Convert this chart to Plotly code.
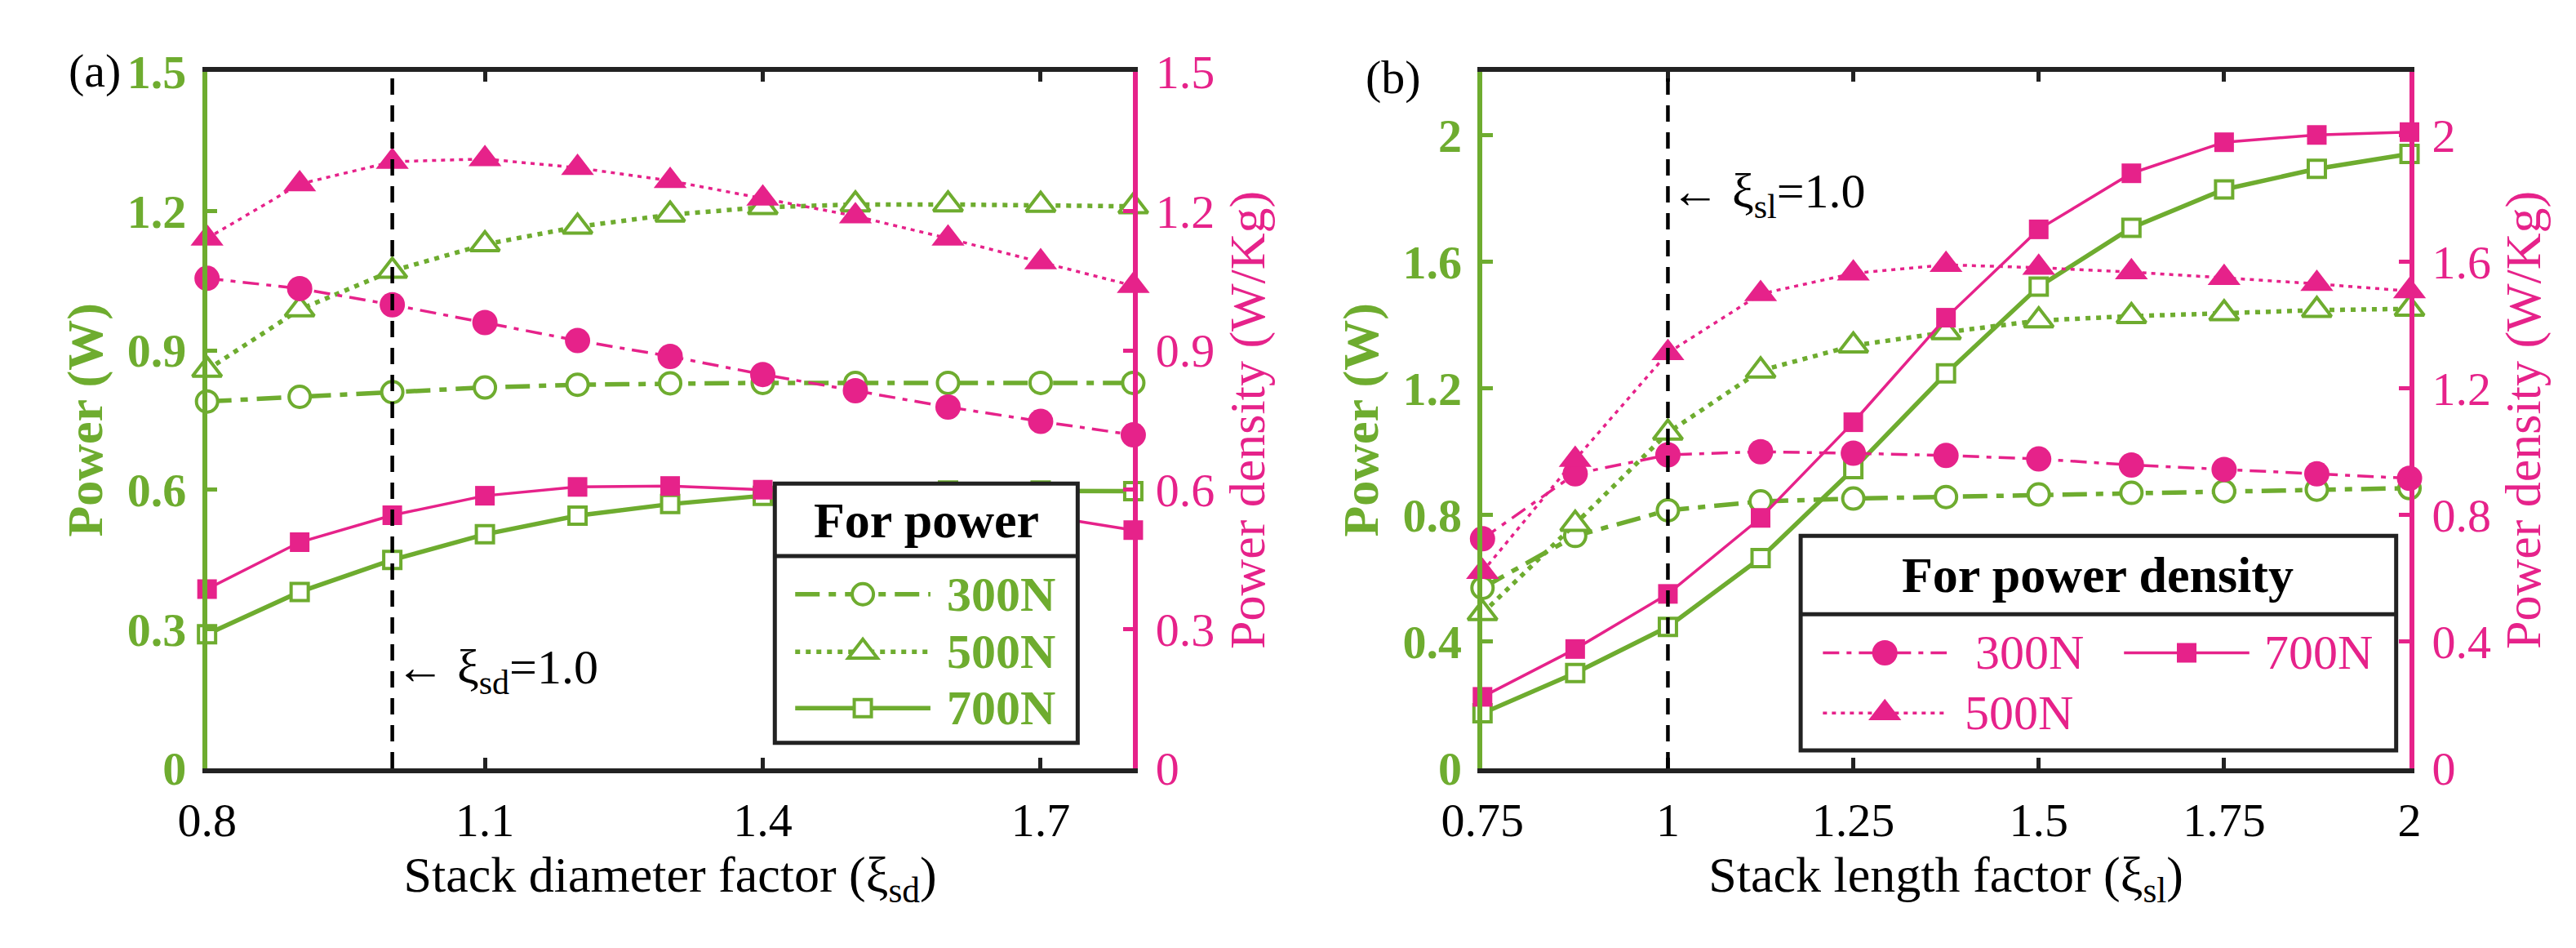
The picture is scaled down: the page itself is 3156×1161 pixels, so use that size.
import plotly.graph_objects as go

GREEN = "#6EAC2F"
PINK = "#E6228A"
FONT = "Liberation Serif"
W, H = 3156, 1161

# ---------------- data: panel (a) ----------------
xa = [0.8, 0.9, 1.0, 1.1, 1.2, 1.3, 1.4, 1.5, 1.6, 1.7, 1.8]
pa_300 = [0.79, 0.80, 0.81, 0.82, 0.826, 0.829, 0.83, 0.83, 0.83, 0.83, 0.83]
pa_500 = [0.858, 0.988, 1.071, 1.128, 1.166, 1.192, 1.208, 1.214, 1.214, 1.213, 1.21]
pa_700 = [0.289, 0.380, 0.449, 0.504, 0.544, 0.569, 0.587, 0.595, 0.598, 0.598, 0.597]
da_300 = [1.055, 1.033, 0.998, 0.960, 0.921, 0.887, 0.848, 0.813, 0.778, 0.747, 0.718]
da_500 = [1.141, 1.258, 1.306, 1.312, 1.293, 1.265, 1.227, 1.189, 1.141, 1.090, 1.039]
da_700 = [0.386, 0.487, 0.545, 0.587, 0.606, 0.608, 0.600, 0.585, 0.565, 0.545, 0.513]

# ---------------- data: panel (b) ----------------
xb = [0.75, 0.875, 1.0, 1.125, 1.25, 1.375, 1.5, 1.625, 1.75, 1.875, 2.0]
pb_300 = [0.57, 0.734, 0.815, 0.843, 0.852, 0.857, 0.865, 0.87, 0.875, 0.88, 0.885]
pb_500 = [0.49, 0.772, 1.06, 1.256, 1.335, 1.377, 1.414, 1.428, 1.437, 1.447, 1.451]
pb_700 = [0.174, 0.301, 0.447, 0.664, 0.945, 1.247, 1.521, 1.707, 1.828, 1.893, 1.94]
db_300 = [0.725, 0.93, 0.99, 1.0, 0.995, 0.988, 0.977, 0.958, 0.944, 0.93, 0.916]
db_500 = [0.621, 0.975, 1.312, 1.498, 1.563, 1.59, 1.581, 1.567, 1.549, 1.53, 1.507]
db_700 = [0.226, 0.377, 0.551, 0.791, 1.093, 1.423, 1.702, 1.879, 1.977, 2.0, 2.009]

names = ["300N", "500N", "700N"]
xa_ticks = [0.8, 1.1, 1.4, 1.7]
xb_ticks = [0.75, 1.0, 1.25, 1.5, 1.75, 2.0]
xb_ticktext = ["0.75", "1", "1.25", "1.5", "1.75", "2"]
ya_ticks = [0, 0.3, 0.6, 0.9, 1.2, 1.5]
ya_ticktext = ["0", "0.3", "0.6", "0.9", "1.2", "1.5"]
yb_ticks = [0, 0.4, 0.8, 1.2, 1.6, 2.0]
yb_ticktext = ["0", "0.4", "0.8", "1.2", "1.6", "2"]

# ---------------- styles ----------------
G_DASH = ["30px,11px,9px,11px", "6px,7px", "solid"]
P_DASH = ["20px,9px,6px,9px", "5px,6px", "solid"]
SYM = ["circle", "triangle-up", "square"]
G_SIZE = [26, 31, 21]
P_SIZE = [31, 35, 24]
G_LW, P_LW = 5.5, 3.5
TICK_FS, TITLE_FS, LEG_FS, ANN_FS = 58, 62, 60, 60
AXW = 5.5

fig = go.Figure()


def add_power(x, ys, xa_, ya_):
    for i, y in enumerate(ys):
        fig.add_trace(go.Scatter(
            x=x, y=y, name=names[i], xaxis=xa_, yaxis=ya_, mode="lines+markers",
            line=dict(color=GREEN, width=G_LW, dash=G_DASH[i]),
            marker=dict(symbol=SYM[i], size=G_SIZE[i], color="white",
                        line=dict(color=GREEN, width=4)),
            cliponaxis=False, showlegend=False))


def add_density(x, ys, xa_, ya_):
    for i, y in enumerate(ys):
        fig.add_trace(go.Scatter(
            x=x, y=y, name=names[i], xaxis=xa_, yaxis=ya_, mode="lines+markers",
            line=dict(color=PINK, width=P_LW, dash=P_DASH[i]),
            marker=dict(symbol=SYM[i], size=P_SIZE[i], color=PINK,
                        line=dict(color=PINK, width=0)),
            cliponaxis=False, showlegend=False))


add_power(xa, [pa_300, pa_500, pa_700], "x", "y")
add_density(xa, [da_300, da_500, da_700], "x", "y2")
add_power(xb, [pb_300, pb_500, pb_700], "x2", "y3")
add_density(xb, [db_300, db_500, db_700], "x2", "y4")

YDOM = [1 - 963 / H, 1 - 59 / H]
XDOM_A = [207 / W, 1366 / W]
XDOM_B = [1803 / W, 2963 / W]

common_x = dict(showgrid=False, zeroline=False, showline=True, linecolor="#222", linewidth=AXW,
                mirror="ticks", ticks="inside", ticklen=13, tickwidth=5, tickcolor="#222",
                ticklabelstandoff=8,
                tickfont=dict(family=FONT, size=TICK_FS, color="black"))


def yleft(rng, tv, tt):
    return dict(domain=YDOM, range=rng, tickvals=tv, ticktext=tt, showgrid=False, zeroline=False,
                showline=True, linecolor=GREEN, linewidth=AXW, ticks="inside", ticklen=13,
                tickwidth=5, tickcolor=GREEN, ticklabelstandoff=8,
                tickfont=dict(family=FONT, size=TICK_FS, color=GREEN, weight="bold"),
                title=dict(text="<b>Power (W)</b>", font=dict(family=FONT, size=TITLE_FS, color=GREEN),
                           standoff=12))


def yright(rng, tv, tt, over, anchor):
    return dict(domain=YDOM, range=rng, tickvals=tv, ticktext=tt, overlaying=over, side="right",
                anchor=anchor, showgrid=False, zeroline=False, showline=True, linecolor=PINK,
                linewidth=AXW, ticks="inside", ticklen=13, tickwidth=5, tickcolor=PINK,
                ticklabelstandoff=10,
                tickfont=dict(family=FONT, size=TICK_FS, color=PINK),
                title=dict(text="Power density (W/Kg)", font=dict(family=FONT, size=TITLE_FS, color=PINK),
                           standoff=20))


fig.update_layout(
    width=W, height=H, margin=dict(l=0, r=0, t=0, b=0),
    plot_bgcolor="white", paper_bgcolor="white", showlegend=False,
    font=dict(family=FONT, size=TITLE_FS, color="black"),
    xaxis=dict(domain=XDOM_A, range=[0.8, 1.8], anchor="y", tickvals=xa_ticks,
               title=dict(text="Stack diameter factor (ξ<sub>sd</sub>)",
                          font=dict(family=FONT, size=TITLE_FS), standoff=12), **common_x),
    xaxis2=dict(domain=XDOM_B, range=[0.75, 2.0], anchor="y3", tickvals=xb_ticks, ticktext=xb_ticktext,
                title=dict(text="Stack length factor (ξ<sub>sl</sub>)",
                           font=dict(family=FONT, size=TITLE_FS), standoff=12), **common_x),
    yaxis=dict(anchor="x", **yleft([0, 1.5], ya_ticks, ya_ticktext)),
    yaxis2=yright([0, 1.5], ya_ticks, ya_ticktext, "y", "x"),
    yaxis3=dict(anchor="x2", **yleft([0, 2.2], yb_ticks, yb_ticktext)),
    yaxis4=yright([0, 2.2], yb_ticks, yb_ticktext, "y3", "x2"),
)

# reference lines at factor = 1.0
for xr, yr in [("x", "y"), ("x2", "y3")]:
    fig.add_shape(type="line", xref=xr, yref=yr + " domain", x0=1.0, x1=1.0, y0=0, y1=1,
                  line=dict(color="black", width=4.5, dash="20px,13px"), layer="above")

fig.add_annotation(x=1.0, y=0.21, xref="x", yref="y", text="← ξ<sub>sd</sub>=1.0", showarrow=False,
                   xanchor="left", yanchor="middle", xshift=2,
                   font=dict(family=FONT, size=ANN_FS, color="black"))
fig.add_annotation(x=1.0, y=1.81, xref="x2", yref="y3", text="← ξ<sub>sl</sub>=1.0", showarrow=False,
                   xanchor="left", yanchor="middle", xshift=2,
                   font=dict(family=FONT, size=ANN_FS, color="black"))
fig.add_annotation(x=32 / W, y=1 - 58 / H, xref="paper", yref="paper", text="(a)", showarrow=False,
                   xanchor="left", yanchor="middle", font=dict(family=FONT, size=58, color="black"))
fig.add_annotation(x=1655 / W, y=1 - 66 / H, xref="paper", yref="paper", text="(b)", showarrow=False,
                   xanchor="left", yanchor="middle", font=dict(family=FONT, size=58, color="black"))


# ---------------- hand-built legends (box with header row) ----------------
def marker_shape(xref, yref, xc, yc, sym, size, fill, color, lw):
    r = size / 2
    base = dict(xref=xref, yref=yref, xsizemode="pixel", ysizemode="pixel", xanchor=xc, yanchor=yc,
                fillcolor=fill, line=dict(color=color, width=lw), layer="above")
    if sym == "circle":
        fig.add_shape(type="circle", x0=-r, x1=r, y0=-r, y1=r, **base)
    elif sym == "square":
        fig.add_shape(type="rect", x0=-r, x1=r, y0=-r, y1=r, **base)
    else:
        rt = r * 1.155
        fig.add_shape(type="path", path=f"M{-rt},{-r * 0.5} L{rt},{-r * 0.5} L0,{r} Z", **base)


def legend_box(xref, yref, box, divider_y, header, header_xy):
    x0, x1, y0, y1 = box
    fig.add_shape(type="rect", xref=xref, yref=yref, x0=x0, x1=x1, y0=y0, y1=y1,
                  fillcolor="white", line=dict(color="#222", width=5), layer="above")
    fig.add_shape(type="line", xref=xref, yref=yref, x0=x0, x1=x1, y0=divider_y, y1=divider_y,
                  line=dict(color="#222", width=5), layer="above")
    fig.add_annotation(x=header_xy[0], y=header_xy[1], xref=xref, yref=yref, text=f"<b>{header}</b>",
                       showarrow=False, xanchor="center", yanchor="middle",
                       font=dict(family=FONT, size=LEG_FS + 2, color="black"))


def legend_item(xref, yref, xs0, xs1, yrow, xtext, i, color, dash, lw, fill, msize, mlw, bold):
    fig.add_shape(type="line", xref=xref, yref=yref, x0=xs0, x1=xs1, y0=yrow, y1=yrow,
                  line=dict(color=color, width=lw, dash=dash), layer="above")
    marker_shape(xref, yref, (xs0 + xs1) / 2, yrow, SYM[i], msize, fill, color, mlw)
    txt = f"<b>{names[i]}</b>" if bold else names[i]
    fig.add_annotation(x=xtext, y=yrow, xref=xref, yref=yref, text=txt, showarrow=False,
                       xanchor="left", yanchor="middle", font=dict(family=FONT, size=LEG_FS, color=color))


# panel (a): "For power"
legend_box("x", "y", (1.413, 1.74, 0.055, 0.613), 0.457, "For power", (1.5765, 0.535))
for i, yrow in enumerate([0.375, 0.251, 0.13]):
    legend_item("x", "y", 1.435, 1.581, yrow, 1.597, i, GREEN, G_DASH[i], G_LW, "white",
                G_SIZE[i], 4, True)

# panel (b): "For power density"
legend_box("x2", "y3", (1.179, 1.982, 0.057, 0.734), 0.487, "For power density", (1.58, 0.61))
for i, (xs0, xs1, yrow, xt) in enumerate([(1.209, 1.376, 0.365, 1.412),
                                          (1.209, 1.376, 0.175, 1.398),
                                          (1.615, 1.784, 0.365, 1.802)]):
    legend_item("x2", "y3", xs0, xs1, yrow, xt, i, PINK, P_DASH[i], P_LW, PINK, P_SIZE[i], 0, False)

fig.write_html("out.html", config={"displayModeBar": False},
               post_script="document.body.style.margin='0';")
